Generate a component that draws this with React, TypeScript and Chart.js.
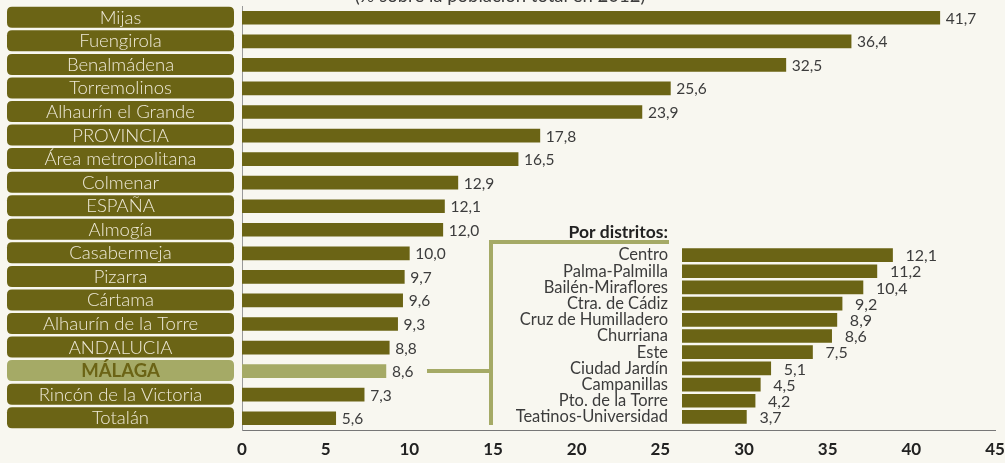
import React, { useEffect, useRef } from "react";
import { Chart, registerables } from "chart.js";
Chart.register(...registerables);

const categories = [
  "Mijas", "Fuengirola", "Benalmádena", "Torremolinos", "Alhaurín el Grande",
  "PROVINCIA", "Área metropolitana", "Colmenar", "ESPAÑA", "Almogía",
  "Casabermeja", "Pizarra", "Cártama", "Alhaurín de la Torre", "ANDALUCIA",
  "MÁLAGA", "Rincón de la Victoria", "Totalán",
];
const values = [41.7, 36.4, 32.5, 25.6, 23.9, 17.8, 16.5, 12.9, 12.1, 12.0, 10.0, 9.7, 9.6, 9.3, 8.8, 8.6, 7.3, 5.6];
const highlight = "MÁLAGA";

const districts = [
  "Centro", "Palma-Palmilla", "Bailén-Miraflores", "Ctra. de Cádiz", "Cruz de Humilladero",
  "Churriana", "Este", "Ciudad Jardín", "Campanillas", "Pto. de la Torre", "Teatinos-Universidad",
];
const districtValues = [12.1, 11.2, 10.4, 9.2, 8.9, 8.6, 7.5, 5.1, 4.5, 4.2, 3.7];

const xMin = 0;
const xMax = 45;
const xStep = 5;
const titleText = "(% sobre la población total en 2012)";
const insetTitle = "Por distritos:";

const BG = "#f8f7f0";
const DARK = "#6b6415";
const LIGHT = "#a5aa66";
const TEXT = "#3c3c3c";
const FONT = "Lato, 'Open Sans', sans-serif";

const fmt = (v: number) => v.toFixed(1).replace(".", ",");

function roundRect(ctx: CanvasRenderingContext2D, x: number, y: number, w: number, h: number, r: number) {
  ctx.beginPath();
  ctx.moveTo(x + r, y);
  ctx.lineTo(x + w - r, y);
  ctx.quadraticCurveTo(x + w, y, x + w, y + r);
  ctx.lineTo(x + w, y + h - r);
  ctx.quadraticCurveTo(x + w, y + h, x + w - r, y + h);
  ctx.lineTo(x + r, y + h);
  ctx.quadraticCurveTo(x, y + h, x, y + h - r);
  ctx.lineTo(x, y + r);
  ctx.quadraticCurveTo(x, y, x + r, y);
  ctx.closePath();
}

export default function App() {
  const mainRef = useRef<HTMLCanvasElement>(null);
  const insetRef = useRef<HTMLCanvasElement>(null);

  useEffect(() => {
    document.body.style.background = BG;
    const decor = {
      id: "decor",
      afterDraw(chart: any) {
        const ctx: CanvasRenderingContext2D = chart.ctx;
        const yS = chart.scales.y;
        ctx.save();
        // label boxes
        categories.forEach((c, i) => {
          const y = yS.getPixelForValue(i);
          const hl = c === highlight;
          roundRect(ctx, 7, y - 11, 227, 21, 5);
          ctx.fillStyle = hl ? LIGHT : DARK;
          ctx.fill();
          ctx.fillStyle = hl ? DARK : "#efead8";
          ctx.font = (hl ? "bold " : "300 ") + "18.5px " + FONT;
          ctx.textAlign = "center";
          ctx.textBaseline = "middle";
          ctx.fillText(c, 120.5, y);
        });
        // value labels
        const meta = chart.getDatasetMeta(0);
        ctx.font = "15.5px " + FONT;
        ctx.fillStyle = TEXT;
        ctx.textAlign = "left";
        ctx.textBaseline = "middle";
        meta.data.forEach((bar: any, i: number) => {
          ctx.fillText(fmt(values[i]), bar.x + 6, bar.y + 1);
        });
        // title (cut off at top)
        ctx.textAlign = "center";
        ctx.textBaseline = "alphabetic";
        ctx.font = "18.5px " + FONT;
        ctx.fillText(titleText, 500, 2);
        // bracket
        const hy = yS.getPixelForValue(categories.indexOf(highlight));
        ctx.strokeStyle = LIGHT;
        ctx.lineWidth = 4;
        ctx.beginPath();
        ctx.moveTo(427, hy);
        ctx.lineTo(491, hy);
        ctx.moveTo(491, 425);
        ctx.lineTo(491, 242);
        ctx.lineTo(669, 242);
        ctx.stroke();
        // inset title
        ctx.fillStyle = "#222";
        ctx.font = "bold 17.5px " + FONT;
        ctx.textAlign = "right";
        ctx.textBaseline = "middle";
        ctx.fillText(insetTitle, 668, 232);
        ctx.restore();
      },
    };

    const main = new Chart(mainRef.current!, {
      type: "bar",
      data: {
        labels: categories,
        datasets: [{
          data: values,
          backgroundColor: categories.map((c) => (c === highlight ? LIGHT : DARK)),
          barThickness: 13,
        }],
      },
      options: {
        indexAxis: "y",
        animation: false,
        responsive: false,
        devicePixelRatio: 1,
        layout: { padding: { left: 242, right: 10, top: 6, bottom: 1 } },
        plugins: { legend: { display: false }, tooltip: { enabled: false } },
        scales: {
          x: {
            min: xMin, max: xMax,
            ticks: { stepSize: xStep, color: "#222", font: { family: FONT, size: 17, weight: "bold" }, padding: 9 },
            grid: { display: false, drawTicks: false },
            border: { display: true, dash: [2, 2], color: "#777", width: 1 },
            afterFit: (s: any) => { s.height = 32; s.paddingLeft = 0; s.paddingRight = 0; },
          },
          y: {
            ticks: { display: false },
            grid: { display: false, drawTicks: false },
            border: { display: true, dash: [2, 2], color: "#999", width: 1 },
            afterFit: (s: any) => { s.width = 0; s.paddingTop = 0; s.paddingBottom = 0; },
          },
        },
      },
      plugins: [decor],
    } as any);

    const insetLabels = {
      id: "insetLabels",
      afterDraw(chart: any) {
        const ctx: CanvasRenderingContext2D = chart.ctx;
        const meta = chart.getDatasetMeta(0);
        ctx.save();
        ctx.font = "16px " + FONT;
        ctx.fillStyle = TEXT;
        ctx.textAlign = "left";
        ctx.textBaseline = "middle";
        meta.data.forEach((bar: any, i: number) => {
          ctx.fillText(fmt(districtValues[i]), bar.x + 13, bar.y + 1);
        });
        ctx.restore();
      },
    };

    const inset = new Chart(insetRef.current!, {
      type: "bar",
      data: {
        labels: districts,
        datasets: [{ data: districtValues, backgroundColor: DARK, barThickness: 13 }],
      },
      options: {
        indexAxis: "y",
        animation: false,
        responsive: false,
        devicePixelRatio: 1,
        layout: { padding: { left: 0, right: 57, top: 2, bottom: 5 } },
        plugins: { legend: { display: false }, tooltip: { enabled: false } },
        scales: {
          x: { display: false, min: 0, max: 15 },
          y: {
            ticks: { color: TEXT, font: { family: FONT, size: 16.5 }, padding: 0, autoSkip: false },
            grid: { display: false, drawTicks: true, tickLength: 14 },
            border: { display: false },
            afterFit: (s: any) => { s.width = 202; s.paddingTop = 0; s.paddingBottom = 0; },
          },
        },
      },
      plugins: [insetLabels],
    } as any);

    return () => {
      main.destroy();
      inset.destroy();
    };
  }, []);

  return (
    <div style={{ position: "fixed", left: 0, top: 0, width: 1005, height: 463, background: BG, overflow: "hidden" }}>
      <canvas ref={mainRef} width={1005} height={463} style={{ position: "absolute", left: 0, top: 0, display: "block" }} />
      <canvas ref={insetRef} width={520} height={185} style={{ position: "absolute", left: 480, top: 245, display: "block" }} />
    </div>
  );
}
